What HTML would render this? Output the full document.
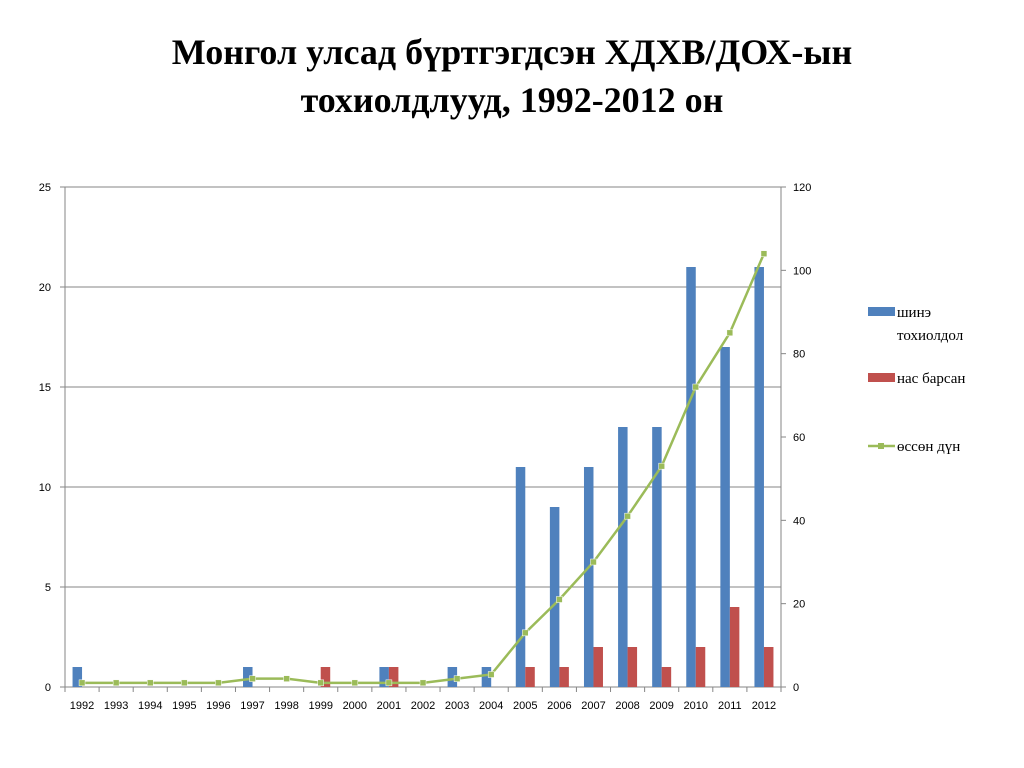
<!DOCTYPE html>
<html><head><meta charset="utf-8"><style>
body{margin:0;background:#fff;width:1024px;height:768px;overflow:hidden;font-family:"Liberation Sans",sans-serif}
#title{position:absolute;left:0;top:28px;width:1024px;text-align:center;font-family:"Liberation Serif",serif;font-weight:bold;font-size:36px;line-height:48px;color:#000}
</style></head><body>
<div id="title">Монгол улсад бүртгэгдсэн ХДХВ/ДОХ-ын<br>тохиолдлууд, 1992-2012 он</div>
<svg id="c" width="1024" height="768" style="position:absolute;left:0;top:0"></svg>
<script>
const years=["1992","1993","1994","1995","1996","1997","1998","1999","2000","2001","2002","2003","2004","2005","2006","2007","2008","2009","2010","2011","2012"];
const newCases=[1,0,0,0,0,1,0,0,0,1,0,1,1,11,9,11,13,13,21,17,21];
const deaths=[0,0,0,0,0,0,0,1,0,1,0,0,0,1,1,2,2,1,2,4,2];
const cumulative=[1,1,1,1,1,2,2,1,1,1,1,2,3,13,21,30,41,53,72,85,104];
const leftTicks=[0,5,10,15,20,25];
const rightTicks=[0,20,40,60,80,100,120];
const svg=document.getElementById('c');const NS='http://www.w3.org/2000/svg';
const L=65,R=781,T=187,B=687;
const band=(R-L)/years.length;
const xc=i=>L+band*(i+0.5);
const yL=v=>B-(v/25)*(B-T);
const yR=v=>B-(v/120)*(B-T);
function mk(tag,a,p){const e=document.createElementNS(NS,tag);for(const k in a)e.setAttribute(k,a[k]);(p||svg).appendChild(e);return e;}
leftTicks.forEach(t=>{
const g=mk('line',{x1:L,x2:R,y1:yL(t),y2:yL(t),stroke:'#868686','stroke-width':1});


const tx=mk('text',{x:L-14,y:yL(t)+4,'text-anchor':'end','font-size':11,fill:'#000'});tx.textContent=t;


mk('line',{x1:L-5,x2:L,y1:yL(t),y2:yL(t),stroke:'#868686'});
});
rightTicks.forEach(t=>{
const tx=mk('text',{x:R+12,y:yR(t)+4,'font-size':11,fill:'#000'});tx.textContent=t;


mk('line',{x1:R,x2:R+5,y1:yR(t),y2:yR(t),stroke:'#868686'});
});
mk('line',{x1:L,x2:L,y1:T,y2:B,stroke:'#868686'});
mk('line',{x1:R,x2:R,y1:T,y2:B,stroke:'#868686'});
for(let i=0;i<=years.length;i++)mk('line',{x1:L+band*i,x2:L+band*i,y1:B,y2:B+5,stroke:'#868686'});
years.forEach((y,i)=>{
const tx=mk('text',{x:xc(i),y:B+22,'text-anchor':'middle','font-size':11,fill:'#000'});tx.textContent=y;


const bw=9.5;
if(newCases[i]>0){const r=mk('rect',{x:xc(i)-bw,y:yL(newCases[i]),width:bw,height:B-yL(newCases[i]),fill:'#4f81bd'});

}
if(deaths[i]>0){const r=mk('rect',{x:xc(i),y:yL(deaths[i]),width:bw,height:B-yL(deaths[i]),fill:'#c0504d'});

}
});
const pl=mk('polyline',{points:cumulative.map((v,i)=>xc(i)+','+yR(v)).join(' '),fill:'none',stroke:'#9bbb59','stroke-width':2.5});


cumulative.forEach((v,i)=>{const m=mk('rect',{x:xc(i)-3,y:yR(v)-3,width:6,height:6,fill:'#9bbb59',stroke:'#fff','stroke-width':0.5});

});
// legend
const lg=[['шинэ','тохиолдол','#4f81bd',312,'bar'],['нас барсан',null,'#c0504d',378,'bar'],['өссөн дүн',null,'#9bbb59',446,'line']];
lg.forEach(l=>{
const g=mk('g',{});


if(l[4]==='bar')mk('rect',{x:868,y:l[3]-5,width:27,height:9,fill:l[2]},g);
else{mk('line',{x1:868,x2:895,y1:l[3],y2:l[3],stroke:l[2],'stroke-width':2.5},g);mk('rect',{x:878,y:l[3]-3,width:6,height:6,fill:l[2]},g);}
const t=mk('text',{x:897,y:l[3]+5,'font-size':15,'font-family':'Liberation Serif, serif',fill:'#000'},g);t.textContent=l[0];
if(l[1]){const t2=mk('text',{x:897,y:l[3]+28,'font-size':15,'font-family':'Liberation Serif, serif',fill:'#000'},g);t2.textContent=l[1];}
});
</script>
</body></html>
